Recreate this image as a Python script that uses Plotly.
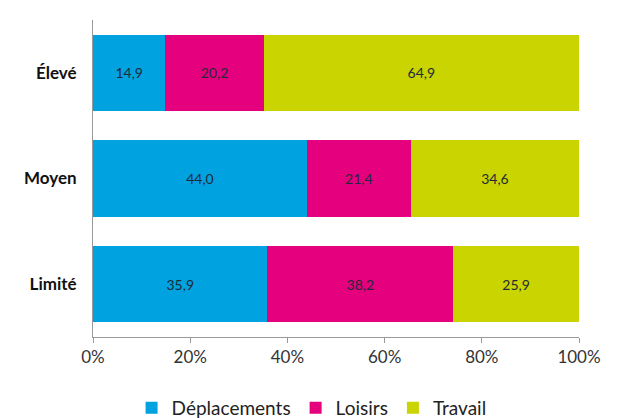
import plotly.graph_objects as go

categories = ["Élevé", "Moyen", "Limité"]
deplacements = [14.9, 44.0, 35.9]
loisirs = [20.2, 21.4, 38.2]
travail = [64.9, 34.6, 25.9]
tick_vals = [0, 20, 40, 60, 80, 100]
tick_text = ["0%", "20%", "40%", "60%", "80%", "100%"]

series = [
    ("Déplacements", deplacements, "#00A3E0"),
    ("Loisirs", loisirs, "#E5007D"),
    ("Travail", travail, "#C9D400"),
]

fig = go.Figure()
for name, vals, color in series:
    fig.add_trace(go.Bar(
        y=categories, x=vals, name=name, orientation="h",
        marker=dict(color=color, line=dict(width=0)),
        text=[f"{v:.1f}".replace(".", ",") for v in vals],
        textposition="inside", insidetextanchor="middle",
        textfont=dict(family="Lato, sans-serif", size=14, color="#1f2a3a"),
        hoverinfo="skip",
    ))

fig.update_layout(
    barmode="stack",
    bargap=0.28,
    width=617, height=418,
    margin=dict(l=93, r=38, t=20, b=81, autoexpand=False),
    paper_bgcolor="white", plot_bgcolor="white",
    font=dict(family="Lato, sans-serif", color="#222"),
    showlegend=True,
    legend=dict(orientation="h", x=0.505, xref="container", xanchor="center",
                y=0.024, yref="container", yanchor="middle",
                font=dict(size=19, color="#222"), traceorder="normal",
                itemwidth=30, tracegroupgap=0),
    uniformtext=dict(mode="show", minsize=8),
)
fig.update_xaxes(range=[0, 100], tickvals=tick_vals, ticktext=tick_text,
                 showgrid=False, zeroline=False, showline=True, linecolor="#999",
                 linewidth=1, ticks="outside", ticklen=5, tickcolor="#999",
                 tickfont=dict(size=17, color="#333"), fixedrange=True,
                 automargin=False)
fig.update_yaxes(autorange="reversed", showgrid=False, zeroline=False,
                 showline=True, linecolor="#999", linewidth=1, ticks="",
                 tickfont=dict(size=17, color="#111", family="Lato, sans-serif", weight="bold"),
                 ticklabelstandoff=12, fixedrange=True, automargin=False)

fig.write_html("out.html")
